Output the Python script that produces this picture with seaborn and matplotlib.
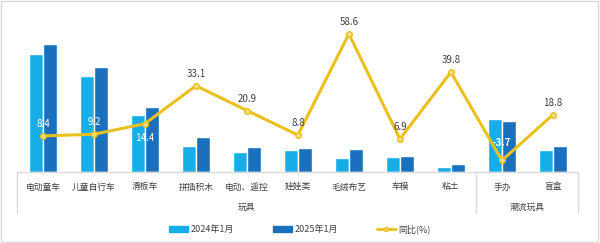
import matplotlib
matplotlib.use("Agg")
import matplotlib.pyplot as plt
from matplotlib.patches import Patch, Rectangle
from matplotlib.lines import Line2D
import numpy as np
import pandas as pd
import seaborn as sns

# 数据
categories = ["电动童车", "儿童自行车", "滑板车", "拼插积木", "电动、遥控", "娃娃类",
              "毛绒布艺", "车模", "粘土", "手办", "盲盒"]
sales_2024 = [118, 96, 57, 26, 20, 22, 14.5, 15, 5.5, 53, 22]
sales_2025 = [128, 105, 65, 35, 25, 24, 23, 16.5, 8, 51, 26]
yoy = [8.4, 9.2, 14.4, 33.1, 20.9, 8.8, 58.6, 6.9, 39.8, -3.7, 18.8]
groups = [("玩具", 0, 8), ("潮流玩具", 9, 10)]
series_names = ["2024年1月", "2025年1月"]

c_light = "#17AEE8"
c_dark = "#1A70BD"
c_line = "#EBC01B"
c_text = "#404040"
c_grid = "#D9D9D9"

sns.set_style("white")
plt.rcParams["font.family"] = ["Noto Sans CJK SC", "DejaVu Sans"]

df = pd.DataFrame({
    "品类": categories * 2,
    "期间": [series_names[0]] * len(categories) + [series_names[1]] * len(categories),
    "销量": sales_2024 + sales_2025,
})

fig = plt.figure(figsize=(6, 2.43), dpi=100)
ax = fig.add_axes([0.029, 0.292, 0.935, 0.626])

sns.barplot(data=df, x="品类", y="销量", hue="期间", order=categories,
            hue_order=series_names, palette=[c_light, c_dark],
            width=0.55, gap=0, saturation=1, legend=False, ax=ax)
ax.set_xlim(-0.5, len(categories) - 0.5)
ax.set_ylim(0, 152)
ax.set_xlabel("")
ax.set_ylabel("")
ax.set_yticks([])
for s in ["top", "right", "left"]:
    ax.spines[s].set_visible(False)
ax.spines["bottom"].set_color(c_grid)
ax.spines["bottom"].set_linewidth(1)
ax.tick_params(axis="x", length=0, pad=7.5, labelsize=6.3, labelcolor=c_text)

# 同比折线
ax2 = ax.twinx()
x = np.arange(len(categories))
sns.lineplot(x=x, y=yoy, ax=ax2, color=c_line, linewidth=2.2,
             marker="o", markersize=4, markerfacecolor="#F6DC7A",
             markeredgecolor=c_line, markeredgewidth=1)
ax2.set_ylim(-9.4, 65.5)
ax2.set_yticks([])
for s in ["top", "right", "left", "bottom"]:
    ax2.spines[s].set_visible(False)

white_idx = {0, 1, 2, 9}
for i, v in enumerate(yoy):
    dy = 12
    if i == 2:
        dy = -14
    elif i == 9:
        dy = 17
    col = "white" if i in white_idx else c_text
    ax2.annotate(f"{v}", (i, v), xytext=(0, dy), textcoords="offset pixels",
                 ha="center", va="center", fontsize=7, color=col,
                 fontweight="bold" if i == 9 else "normal")

# 分组线和分组标签
tr = ax.get_xaxis_transform()
bounds = [-0.5, 8.5, 10.5]
for b in bounds:
    ax.add_line(Line2D([b, b], [0, -0.27], transform=tr, color=c_grid,
                       lw=1, clip_on=False))
for name, a, b in groups:
    ax.text((a + b) / 2, -0.23, name, transform=tr, ha="center", va="center",
            fontsize=6.3, color=c_text)

# 图例
handles = [Patch(color=c_light, label=series_names[0]),
           Patch(color=c_dark, label=series_names[1]),
           Line2D([], [], color=c_line, lw=2, marker="o", markersize=3,
                  markerfacecolor="#F6DC7A", label="同比(%)")]
fig.legend(handles=handles, loc="center", bbox_to_anchor=(0.5, 0.058), ncol=3,
           frameon=False, fontsize=6.5, handlelength=2.1, handleheight=0.6,
           handletextpad=0.3, columnspacing=4.3, labelcolor=c_text)

fig.patches.append(Rectangle((0.002, 0.004), 0.994, 0.992, transform=fig.transFigure,
                             fill=False, edgecolor=c_grid, lw=1))

fig.savefig("out.png", dpi=100)
